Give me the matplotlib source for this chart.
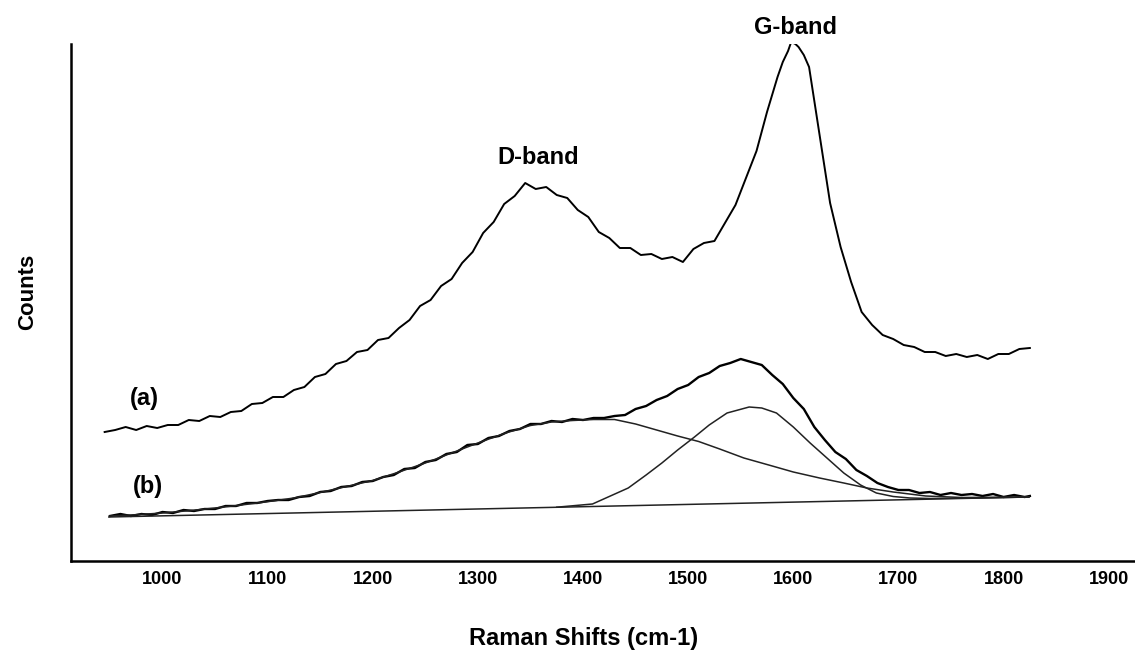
import matplotlib
matplotlib.use("Agg")
import matplotlib.pyplot as plt
import numpy as np

# ---- data (arbitrary count units) ----
a_shift = [945, 955, 965, 975, 985, 995, 1005, 1015, 1025, 1035, 1045, 1055, 1065, 1075, 1085,
           1095, 1105, 1115, 1125, 1135, 1145, 1155, 1165, 1175, 1185, 1195, 1205, 1215, 1225,
           1235, 1245, 1255, 1265, 1275, 1285, 1295, 1305, 1315, 1325, 1335, 1345, 1355, 1365,
           1375, 1385, 1395, 1405, 1415, 1425, 1435, 1445, 1455, 1465, 1475, 1485, 1495, 1505,
           1515, 1525, 1535, 1545, 1555, 1565, 1575, 1585, 1590, 1595, 1598, 1602, 1605, 1610,
           1615, 1625, 1635, 1645, 1655, 1665, 1675, 1685, 1695, 1705, 1715, 1725, 1735, 1745,
           1755, 1765, 1775, 1785, 1795, 1805, 1815, 1825]
a_counts = [129, 131, 134, 131, 135, 133, 136, 136, 141, 140, 145, 144, 149, 150, 157,
            158, 164, 164, 171, 174, 184, 187, 197, 200, 209, 211, 221, 223, 233,
            241, 255, 261, 275, 282, 298, 309, 328, 339, 357, 365, 378, 372, 374,
            366, 363, 351, 344, 329, 323, 313, 313, 306, 307, 302, 304, 299, 312,
            318, 320, 338, 356, 383, 410, 449, 484, 499, 510, 519, 517, 514, 506,
            494, 426, 358, 314, 279, 249, 236, 226, 222, 216, 214, 209, 209, 205,
            207, 204, 206, 202, 207, 207, 212, 213]

b_shift = list(range(950, 1821, 10)) + [1825]
b_counts = [45, 47, 45, 47, 46, 49, 48, 51, 50, 52, 52, 55, 55, 58, 58, 60, 61, 61, 64, 65,
            69, 70, 74, 75, 79, 80, 84, 86, 92, 93, 99, 101, 107, 109, 116, 117, 123, 125,
            130, 132, 137, 137, 140, 139, 142, 141, 143, 143, 145, 146, 152, 155, 161, 165,
            172, 176, 184, 188, 195, 198, 202, 199, 196, 186, 177, 163, 152, 134, 121, 109,
            102, 91, 85, 78, 74, 71, 71, 68, 69, 66, 68, 66, 67, 65, 67, 64, 66, 64, 65]

d_shift = [950, 975, 1000, 1025, 1050, 1075, 1100, 1125, 1150, 1175, 1200, 1225, 1250, 1275,
           1300, 1325, 1350, 1370, 1390, 1410, 1430, 1450, 1470, 1490, 1510, 1530, 1553, 1580,
           1600, 1625, 1648, 1670, 1695, 1726, 1760, 1800, 1824]
d_counts = [45, 46.3, 48, 50.3, 53, 56, 59.3, 63, 68.5, 74.5, 80.5, 89, 98, 108,
            118, 127.5, 135.5, 139, 140.5, 141.5, 141.5, 137, 131, 125, 119.5, 112, 103, 95,
            89, 83, 78, 73, 69, 65, 63.5, 63.8, 64]

g_shift = [1375, 1409, 1443, 1460, 1475, 1490, 1506, 1520, 1537, 1558, 1570, 1584, 1600,
           1616, 1632, 1648, 1664, 1679, 1695, 1711, 1730, 1760, 1790, 1824]
g_counts = [53.8, 57, 73, 86, 98, 111, 124, 136, 148, 154, 153, 148, 134,
            118, 103, 88, 76, 68, 64.5, 63, 62.5, 62.8, 63.3, 64]

base_shift = [949, 1824]
base_counts = [44, 64]

x_ticks = [1000, 1100, 1200, 1300, 1400, 1500, 1600, 1700, 1800, 1900]

# ---- figure ----
plt.rcParams['font.family'] = ['Liberation Sans', 'DejaVu Sans']
fig = plt.figure(figsize=(11.35, 6.5), dpi=100)
ax = fig.add_axes([71 / 1135, 89 / 650, 1 - 71 / 1135, 517 / 650])

lw = 1.4
ax.plot(a_shift, a_counts, color='black', lw=lw)
ax.plot(b_shift, b_counts, color='black', lw=lw + 0.3)
ax.plot(d_shift, d_counts, color='#222222', lw=1.1)
ax.plot(g_shift, g_counts, color='#222222', lw=1.1)
ax.plot(base_shift, base_counts, color='#222222', lw=1.1)

ax.set_xlim(913, 1925)
ax.set_ylim(0, 517)
ax.set_xticks(x_ticks)
ax.set_xticklabels([str(t) for t in x_ticks], fontsize=13, fontweight='bold')
ax.set_yticks([])
ax.tick_params(axis='x', length=0, pad=7)

for s in ['top', 'right']:
    ax.spines[s].set_visible(False)
ax.spines['left'].set_linewidth(1.8)
ax.spines['bottom'].set_linewidth(1.8)

tkw = dict(fontsize=17, fontweight='bold', ha='center', va='center')
ax.text(1357, 404, 'D-band', **tkw)
ax.text(1602, 533, 'G-band', **tkw)
ax.text(983, 163, '(a)', **tkw)
ax.text(986, 74, '(b)', **tkw)

fig.text(584 / 1135, 1 - 638 / 650, 'Raman Shifts (cm-1)', fontsize=17,
         fontweight='bold', ha='center', va='center')
fig.text(28 / 1135, 1 - 292 / 650, 'Counts', fontsize=16, fontweight='bold',
         ha='center', va='center', rotation=90)

fig.savefig('out.png', dpi=100)
